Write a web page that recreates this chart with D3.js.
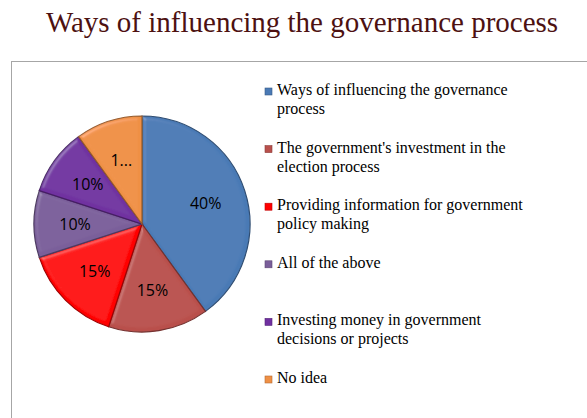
<!DOCTYPE html>
<html>
<head>
    <meta charset="UTF-8">
    <script src="https://d3js.org/d3.v7.min.js"></script>
</head>
<body style="margin:0">
    <div id="chart"></div>
    <script>
        const categories = [
            "Ways of influencing the governance process",
            "The government's investment in the election process",
            "Providing information for government policy making",
            "All of the above",
            "Investing money in government decisions or projects",
            "No idea"
        ];
        // legend line breaks as they appear in the chart
        const legendLines = [
            ["Ways of influencing the governance", "process"],
            ["The government's investment in the", "election process"],
            ["Providing information for government", "policy making"],
            ["All of the above"],
            ["Investing money in government", "decisions or projects"],
            ["No idea"]
        ];
        const values = [40, 15, 15, 10, 10, 10];
        const labels = ["40%", "15%", "15%", "10%", "10%", "1..."];
        const colors = ["#4a7ab5", "#b9504c", "#ff0000", "#7a5e9a", "#7030a0", "#ef9045"];

        const width = 587, height = 418;
        const svg = d3.select("#chart").append("svg")
            .attr("width", width)
            .attr("height", height)
            .attr("font-family", "Liberation Serif");

        // soft bevel lighting
        const defs = svg.append("defs");
        const f = defs.append("filter").attr("id", "bevel")
            .attr("x", "-5%").attr("y", "-5%").attr("width", "110%").attr("height", "110%");
        f.append("feGaussianBlur").attr("in", "SourceAlpha").attr("stdDeviation", 2).attr("result", "blur");
        f.append("feSpecularLighting").attr("in", "blur").attr("surfaceScale", 3)
            .attr("specularConstant", 0.5).attr("specularExponent", 25)
            .attr("lighting-color", "#ffffff").attr("result", "spec")
          .append("feDistantLight").attr("azimuth", 225).attr("elevation", 40);
        f.append("feComposite").attr("in", "spec").attr("in2", "SourceAlpha")
            .attr("operator", "in").attr("result", "specIn");
        f.append("feComposite").attr("in", "SourceGraphic").attr("in2", "specIn")
            .attr("operator", "arithmetic").attr("k1", 0).attr("k2", 1).attr("k3", 0.3).attr("k4", 0);

        // chart area border
        svg.append("rect")
            .attr("x", 11.5).attr("y", 61.5)
            .attr("width", 620).attr("height", 400)
            .attr("fill", "none")
            .attr("stroke", "#a6a6a6");

        svg.append("text")
            .attr("x", 302)
            .attr("y", 32)
            .attr("text-anchor", "middle")
            .attr("font-family", "Liberation Serif")
            .attr("font-size", 29)
            .attr("fill", "#4d1111")
            .text("Ways of influencing the governance process");

        const cx = 142, cy = 224, r = 108;
        const color = d3.scaleOrdinal().domain(categories).range(colors);

        const pie = d3.pie().sort(null).value(d => d.value);
        const pieData = pie(categories.map((c, i) => ({ name: c, value: values[i], label: labels[i] })));

        const arc = d3.arc().innerRadius(0).outerRadius(r);
        const labelArc = d3.arc().innerRadius(r * 0.62).outerRadius(r * 0.62);

        const pieGroup = svg.append("g")
            .attr("transform", `translate(${cx},${cy})`);

        pieGroup.selectAll("path")
            .data(pieData)
            .enter().append("path")
            .attr("d", arc)
            .attr("fill", d => color(d.data.name))
            .attr("stroke", d => d3.color(color(d.data.name)).darker(1.3))
            .attr("stroke-width", 1.2)
            .attr("filter", "url(#bevel)");

        pieGroup.selectAll(".pie-label")
            .data(pieData)
            .enter().append("text")
            .attr("transform", d => `translate(${labelArc.centroid(d)})`)
            .attr("dy", "0.35em")
            .attr("text-anchor", "middle")
            .attr("font-family", "Open Sans")
            .attr("font-size", 16)
            .attr("fill", "#000")
            .text(d => d.data.label);

        // legend
        const ly = d3.scalePoint().domain(categories).range([95, 383]);
        const legend = svg.append("g")
            .selectAll("g")
            .data(categories)
            .enter().append("g")
            .attr("transform", d => `translate(265,${ly(d)})`);

        legend.append("rect")
            .attr("x", 0).attr("y", -7)
            .attr("width", 7).attr("height", 7)
            .attr("fill", d => color(d))
            .attr("stroke", d => d3.color(color(d)).darker(0.8))
            .attr("stroke-width", 0.6);

        legend.append("text")
            .attr("x", 12)
            .attr("y", 0)
            .attr("font-family", "Liberation Serif")
            .attr("font-size", 16)
            .attr("fill", "#000")
            .selectAll("tspan")
            .data((d, i) => legendLines[i])
            .enter().append("tspan")
            .attr("x", 12)
            .attr("dy", (d, i) => i === 0 ? 0 : 19)
            .text(d => d);
    </script>
</body>
</html>
